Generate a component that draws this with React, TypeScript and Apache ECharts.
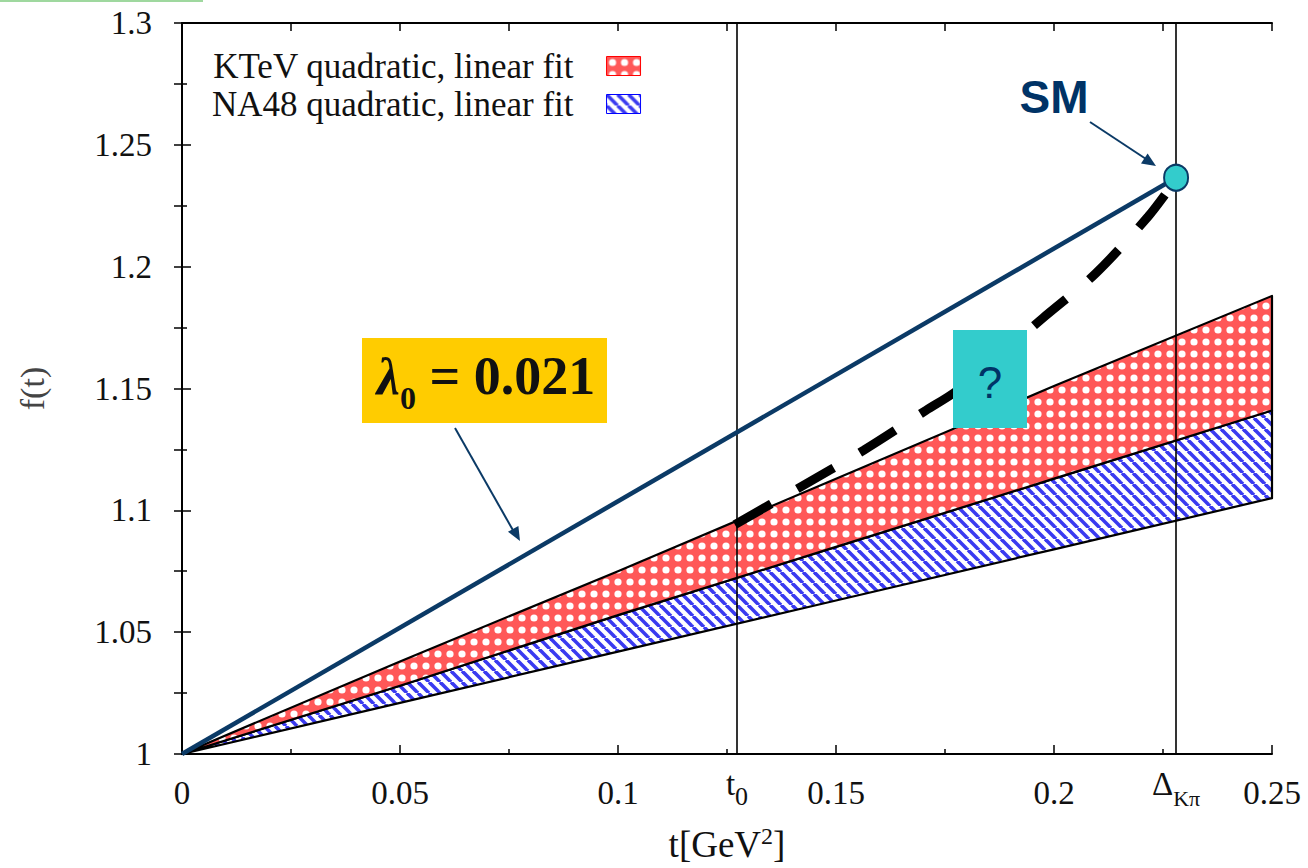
import React, { useEffect, useRef } from "react";
import * as echarts from "echarts";

// ---- data ----
const T_GRID = [0, 0.05, 0.1, 0.15, 0.2, 0.25];
const KTEV_UPPER = [1.0, 1.038, 1.075, 1.113, 1.151, 1.188];
const KTEV_LOWER = [1.0, 1.028, 1.057, 1.085, 1.113, 1.141];
const NA48_UPPER = [1.0, 1.028, 1.057, 1.085, 1.113, 1.141];
const NA48_LOWER = [1.0, 1.021, 1.042, 1.063, 1.084, 1.105];

const T0 = 0.1273;
const DELTA_KPI = 0.228;

const LAMBDA_T = [0, 0.228];
const LAMBDA_F = [1.0, 1.2365];

const SM_T = 0.228;
const SM_F = 1.2365;

const DASH_T = [0.1268, 0.1411, 0.1564, 0.1706, 0.1778, 0.1975, 0.2096, 0.2216, 0.2278];
const DASH_F = [1.0941, 1.1088, 1.1247, 1.141, 1.1492, 1.179, 1.1973, 1.2206, 1.2353];

const X_TICK_LABELS = ["0", "0.05", "0.1", "0.15", "0.2", "0.25"];
const Y_TICK_LABELS = ["1", "1.05", "1.1", "1.15", "1.2", "1.25", "1.3"];

const KTEV_NAME = "KTeV quadratic, linear fit";
const NA48_NAME = "NA48 quadratic, linear fit";

const SERIF = "'Liberation Serif', 'Times New Roman', serif";
const SANS = "'Liberation Sans', Arial, sans-serif";
const NAVY = "#0b3a66";

function makeRedPattern() {
  const s = 12;
  const c = document.createElement("canvas");
  c.width = s;
  c.height = s;
  const g = c.getContext("2d")!;
  g.fillStyle = "#ff5858";
  g.fillRect(0, 0, s, s);
  g.fillStyle = "#ffffff";
  g.beginPath();
  g.arc(6, 6, 3.6, 0, Math.PI * 2);
  g.fill();
  return { image: c, repeat: "repeat", imageWidth: s, imageHeight: s };
}

function makeBluePattern() {
  const s = 11;
  const c = document.createElement("canvas");
  c.width = s;
  c.height = s;
  const g = c.getContext("2d")!;
  g.fillStyle = "#ffffff";
  g.fillRect(0, 0, s, s);
  g.strokeStyle = "#3a3af0";
  g.lineWidth = 3.6;
  for (let k = -1; k <= 1; k++) {
    g.beginPath();
    g.moveTo(k * s, 0);
    g.lineTo(k * s + s, s);
    g.stroke();
  }
  return { image: c, repeat: "repeat", imageWidth: s, imageHeight: s };
}

function fmtLabel(labels: string[], ticks: number[]) {
  return (v: number) => {
    for (let i = 0; i < ticks.length; i++) {
      if (Math.abs(ticks[i] - v) < 1e-6) return labels[i];
    }
    return "";
  };
}

function bandSeries(name: string, upper: number[], lower: number[], fill: any, z: number) {
  return {
    name,
    type: "custom",
    coordinateSystem: "cartesian2d",
    silent: true,
    z,
    itemStyle: { color: fill },
    data: [[T_GRID[0], lower[0]]],
    renderItem: (_params: any, api: any) => {
      const pts: number[][] = [];
      for (let i = 0; i < T_GRID.length; i++) pts.push(api.coord([T_GRID[i], upper[i]]));
      for (let i = T_GRID.length - 1; i >= 0; i--) pts.push(api.coord([T_GRID[i], lower[i]]));
      return {
        type: "polygon",
        shape: { points: pts },
        style: { fill, stroke: "#000", lineWidth: 2.2, lineJoin: "round" },
      };
    },
  };
}

export default function App() {
  const ref = useRef<HTMLDivElement>(null);

  useEffect(() => {
    if (!ref.current) return;
    const chart = echarts.init(ref.current, null, { renderer: "svg" });
    const red = makeRedPattern();
    const blue = makeBluePattern();
    const yTicks = Y_TICK_LABELS.map((s) => parseFloat(s));

    const option: any = {
      animation: false,
      backgroundColor: "#ffffff",
      grid: { left: 182, right: 36, top: 23, bottom: 110 },
      legend: {
        left: 207,
        top: 43,
        orient: "vertical",
        align: "right",
        itemGap: 2,
        itemWidth: 34,
        itemHeight: 19,
        textStyle: {
          fontFamily: SERIF,
          fontSize: 35,
          lineHeight: 36,
          color: "#111",
          padding: [0, 28, 0, 0],
        },
        data: [
          { name: KTEV_NAME, icon: "rect", itemStyle: { color: red, borderColor: "#ff0000", borderWidth: 1 } },
          { name: NA48_NAME, icon: "rect", itemStyle: { color: blue, borderColor: "#0000ff", borderWidth: 1 } },
        ],
      },
      xAxis: [
        {
          type: "value",
          min: 0,
          max: 0.25,
          interval: 0.05,
          name: "{a|t[GeV}{b|2}{a|]}",
          nameLocation: "middle",
          nameGap: 70,
          nameTextStyle: {
            rich: {
              a: { fontFamily: SERIF, fontSize: 37, color: "#111", verticalAlign: "bottom" },
              b: { fontFamily: SERIF, fontSize: 24, color: "#111", verticalAlign: "bottom", padding: [0, 0, 15, 0] },
            },
          },
          axisLine: { show: true, lineStyle: { color: "#000", width: 2 } },
          axisTick: { show: true, inside: true, length: 9, lineStyle: { color: "#000", width: 1.5 } },
          minorTick: { show: true, splitNumber: 2, length: 5, lineStyle: { color: "#000", width: 1.5 } },
          splitLine: { show: false },
          axisLabel: {
            margin: 22,
            fontFamily: SERIF,
            fontSize: 33,
            color: "#111",
            formatter: fmtLabel(X_TICK_LABELS, T_GRID),
          },
        },
        {
          type: "value",
          position: "top",
          min: 0,
          max: 0.25,
          interval: 0.05,
          axisLine: { show: true, lineStyle: { color: "#000", width: 2 } },
          axisTick: { show: true, inside: true, length: 8, lineStyle: { color: "#000", width: 1.5 } },
          minorTick: { show: true, splitNumber: 2, length: 8, lineStyle: { color: "#000", width: 1.5 } },
          splitLine: { show: false },
          axisLabel: { show: false },
        },
      ],
      yAxis: [
        {
          type: "value",
          min: 1,
          max: 1.3,
          interval: 0.05,
          name: "f(t)",
          nameLocation: "middle",
          nameRotate: 90,
          nameGap: 133,
          nameTextStyle: { fontFamily: SERIF, fontSize: 34, color: "#444" },
          axisLine: { show: true, lineStyle: { color: "#000", width: 2 } },
          axisTick: { show: true, inside: true, length: 9, lineStyle: { color: "#000", width: 1.5 } },
          minorTick: { show: true, splitNumber: 2, length: 5, lineStyle: { color: "#000", width: 1.5 } },
          splitLine: { show: false },
          axisLabel: {
            margin: 30,
            fontFamily: SERIF,
            fontSize: 33,
            color: "#111",
            formatter: fmtLabel(Y_TICK_LABELS, yTicks),
          },
        },
        {
          type: "value",
          position: "right",
          min: 1,
          max: 1.3,
          interval: 0.05,
          axisLine: { show: true, lineStyle: { color: "#000", width: 2 } },
          axisTick: { show: true, inside: true, length: 8, lineStyle: { color: "#000", width: 1.5 } },
          minorTick: { show: true, splitNumber: 2, length: 8, lineStyle: { color: "#000", width: 1.5 } },
          splitLine: { show: false },
          axisLabel: { show: false },
        },
      ],
      series: [
        bandSeries(NA48_NAME, NA48_UPPER, NA48_LOWER, blue, 2),
        bandSeries(KTEV_NAME, KTEV_UPPER, KTEV_LOWER, red, 3),
        {
          name: "markers",
          type: "line",
          symbol: "none",
          data: [],
          z: 4,
          markLine: {
            silent: true,
            symbol: "none",
            lineStyle: { color: "#000", width: 1.6, type: "solid" },
            label: {
              show: true,
              position: "start",
              distance: 13,
              color: "#111",
              fontFamily: SERIF,
            },
            data: [
              [
                {
                  coord: [T0, 1],
                  label: {
                    formatter: "{a|t}{b|0}",
                    rich: {
                      a: { fontFamily: SERIF, fontSize: 33, color: "#111", verticalAlign: "bottom", padding: [0, 0, 9, 0] },
                      b: { fontFamily: SERIF, fontSize: 26, color: "#111", verticalAlign: "bottom" },
                    },
                  },
                },
                { coord: [T0, 1.3] },
              ],
              [
                {
                  coord: [DELTA_KPI, 1],
                  label: {
                    formatter: "{a|Δ}{b|Kπ}",
                    rich: {
                      a: { fontFamily: SERIF, fontSize: 33, color: "#111", verticalAlign: "bottom", padding: [0, 0, 9, 0] },
                      b: { fontFamily: SERIF, fontSize: 22, color: "#111", verticalAlign: "bottom" },
                    },
                  },
                },
                { coord: [DELTA_KPI, 1.3] },
              ],
            ],
          },
        },
        {
          name: "lambda",
          type: "line",
          symbol: "none",
          lineStyle: { color: NAVY, width: 4.5 },
          data: LAMBDA_T.map((t, i) => [t, LAMBDA_F[i]]),
          z: 5,
        },
        {
          name: "dashed",
          type: "line",
          symbol: "none",
          smooth: 0.3,
          lineStyle: { color: "#000", width: 9, type: [42, 30], cap: "butt" },
          data: DASH_T.map((t, i) => [t, DASH_F[i]]),
          z: 6,
        },
        {
          name: "SM",
          type: "scatter",
          symbol: "circle",
          symbolSize: [24, 26],
          itemStyle: { color: "#33cccc", borderColor: NAVY, borderWidth: 2, opacity: 1 },
          data: [[SM_T, SM_F]],
          z: 7,
        },
      ],
      graphic: [
        { type: "rect", left: 0, top: 0, shape: { width: 203, height: 2 }, style: { fill: "#9fd89f" }, z: 10 },
        {
          type: "rect",
          shape: { x: 362, y: 338, width: 245, height: 85 },
          style: { fill: "#ffcc00" },
          z: 10,
        },
        {
          type: "text",
          x: 486,
          y: 381,
          style: {
            text: "{l|λ}{s|0}{e| = 0.021}",
            align: "center",
            verticalAlign: "middle",
            rich: {
              l: { fontFamily: SERIF, fontStyle: "italic", fontWeight: "bold", fontSize: 52, fill: "#111", verticalAlign: "bottom", padding: [0, 0, 11, 0] },
              s: { fontFamily: SERIF, fontWeight: "bold", fontSize: 32, fill: "#111", verticalAlign: "bottom" },
              e: { fontFamily: SERIF, fontWeight: "bold", fontSize: 54, fill: "#111", verticalAlign: "bottom", padding: [0, 0, 11, 0] },
            },
          },
          z: 11,
        },
        {
          type: "line",
          shape: { x1: 455, y1: 428, x2: 514, y2: 532 },
          style: { stroke: NAVY, lineWidth: 2 },
          z: 10,
        },
        {
          type: "polygon",
          shape: { points: [[520, 541], [508, 531.7], [518.4, 525.9]] },
          style: { fill: NAVY },
          z: 10,
        },
        {
          type: "text",
          x: 1054,
          y: 97,
          style: {
            text: "SM",
            fontFamily: SANS,
            fontWeight: "bold",
            fontSize: 46,
            fill: "#003366",
            align: "center",
            verticalAlign: "middle",
          },
          z: 10,
        },
        {
          type: "line",
          shape: { x1: 1090, y1: 122, x2: 1146, y2: 159 },
          style: { stroke: NAVY, lineWidth: 2 },
          z: 10,
        },
        {
          type: "polygon",
          shape: { points: [[1156, 166], [1141, 163.4], [1147.6, 153.4]] },
          style: { fill: NAVY },
          z: 10,
        },
        {
          type: "rect",
          shape: { x: 953, y: 330, width: 74, height: 98 },
          style: { fill: "#33cccc" },
          z: 10,
        },
        {
          type: "text",
          x: 990,
          y: 382,
          style: {
            text: "?",
            fontFamily: SANS,
            fontSize: 44,
            fill: "#003366",
            align: "center",
            verticalAlign: "middle",
          },
          z: 11,
        },
      ],
    };

    chart.setOption(option);
    return () => chart.dispose();
  }, []);

  return (
    <div
      ref={ref}
      style={{ position: "absolute", left: 0, top: 0, width: 1308, height: 868 }}
    />
  );
}
